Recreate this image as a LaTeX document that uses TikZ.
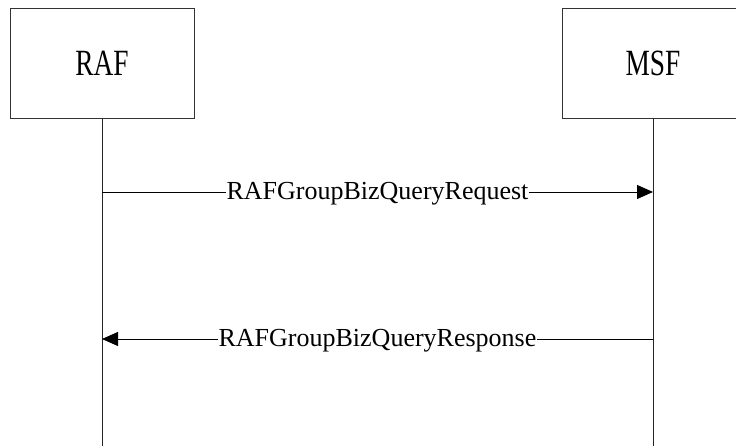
\documentclass[tikz,border=0pt]{standalone}
\usepackage{fontspec}
\setmainfont{Liberation Serif}
\usetikzlibrary{arrows.meta}
\tikzset{
  entity/.style={draw=black!80, line width=0.8pt, minimum width=184pt, minimum height=110pt, inner sep=0pt,
    font=\fontsize{37}{37}\selectfont},
  lifeline/.style={draw=black!85, line width=0.8pt},
  msg/.style={draw=black, line width=0.8pt, -{Triangle[length=16pt,width=14pt]}},
  msglabel/.style={fill=white, inner xsep=1pt, inner ysep=0pt, text height=16pt, text depth=0pt,
    font=\fontsize{26}{26}\selectfont}
}
\begin{document}
\begin{tikzpicture}[x=1pt,y=1pt]
\useasboundingbox (0,0) rectangle (736,446);
\clip (0,0) rectangle (736,446);
\node[entity] (raf) at (102,383) {\scalebox{0.74}[1]{RAF}};
\node[entity, minimum width=182pt] (msf) at (653,383) {\scalebox{0.74}[1]{MSF}};
\coordinate (rafend) at (102,0);
\coordinate (msfend) at (653,0);
\draw[lifeline] (raf.south) -- (rafend);
\draw[lifeline] (msf.south) -- (msfend);
\coordinate (r1) at (102,254);
\coordinate (m1) at (653,254);
\coordinate (r2) at (102,107);
\coordinate (m2) at (653,107);
\draw[msg] (r1) -- node[msglabel] (l1) {RAFGroupBizQueryRequest} (m1);
\draw[msg] (m2) -- node[msglabel] (l2) {RAFGroupBizQueryResponse} (r2);
\end{tikzpicture}
\end{document}
